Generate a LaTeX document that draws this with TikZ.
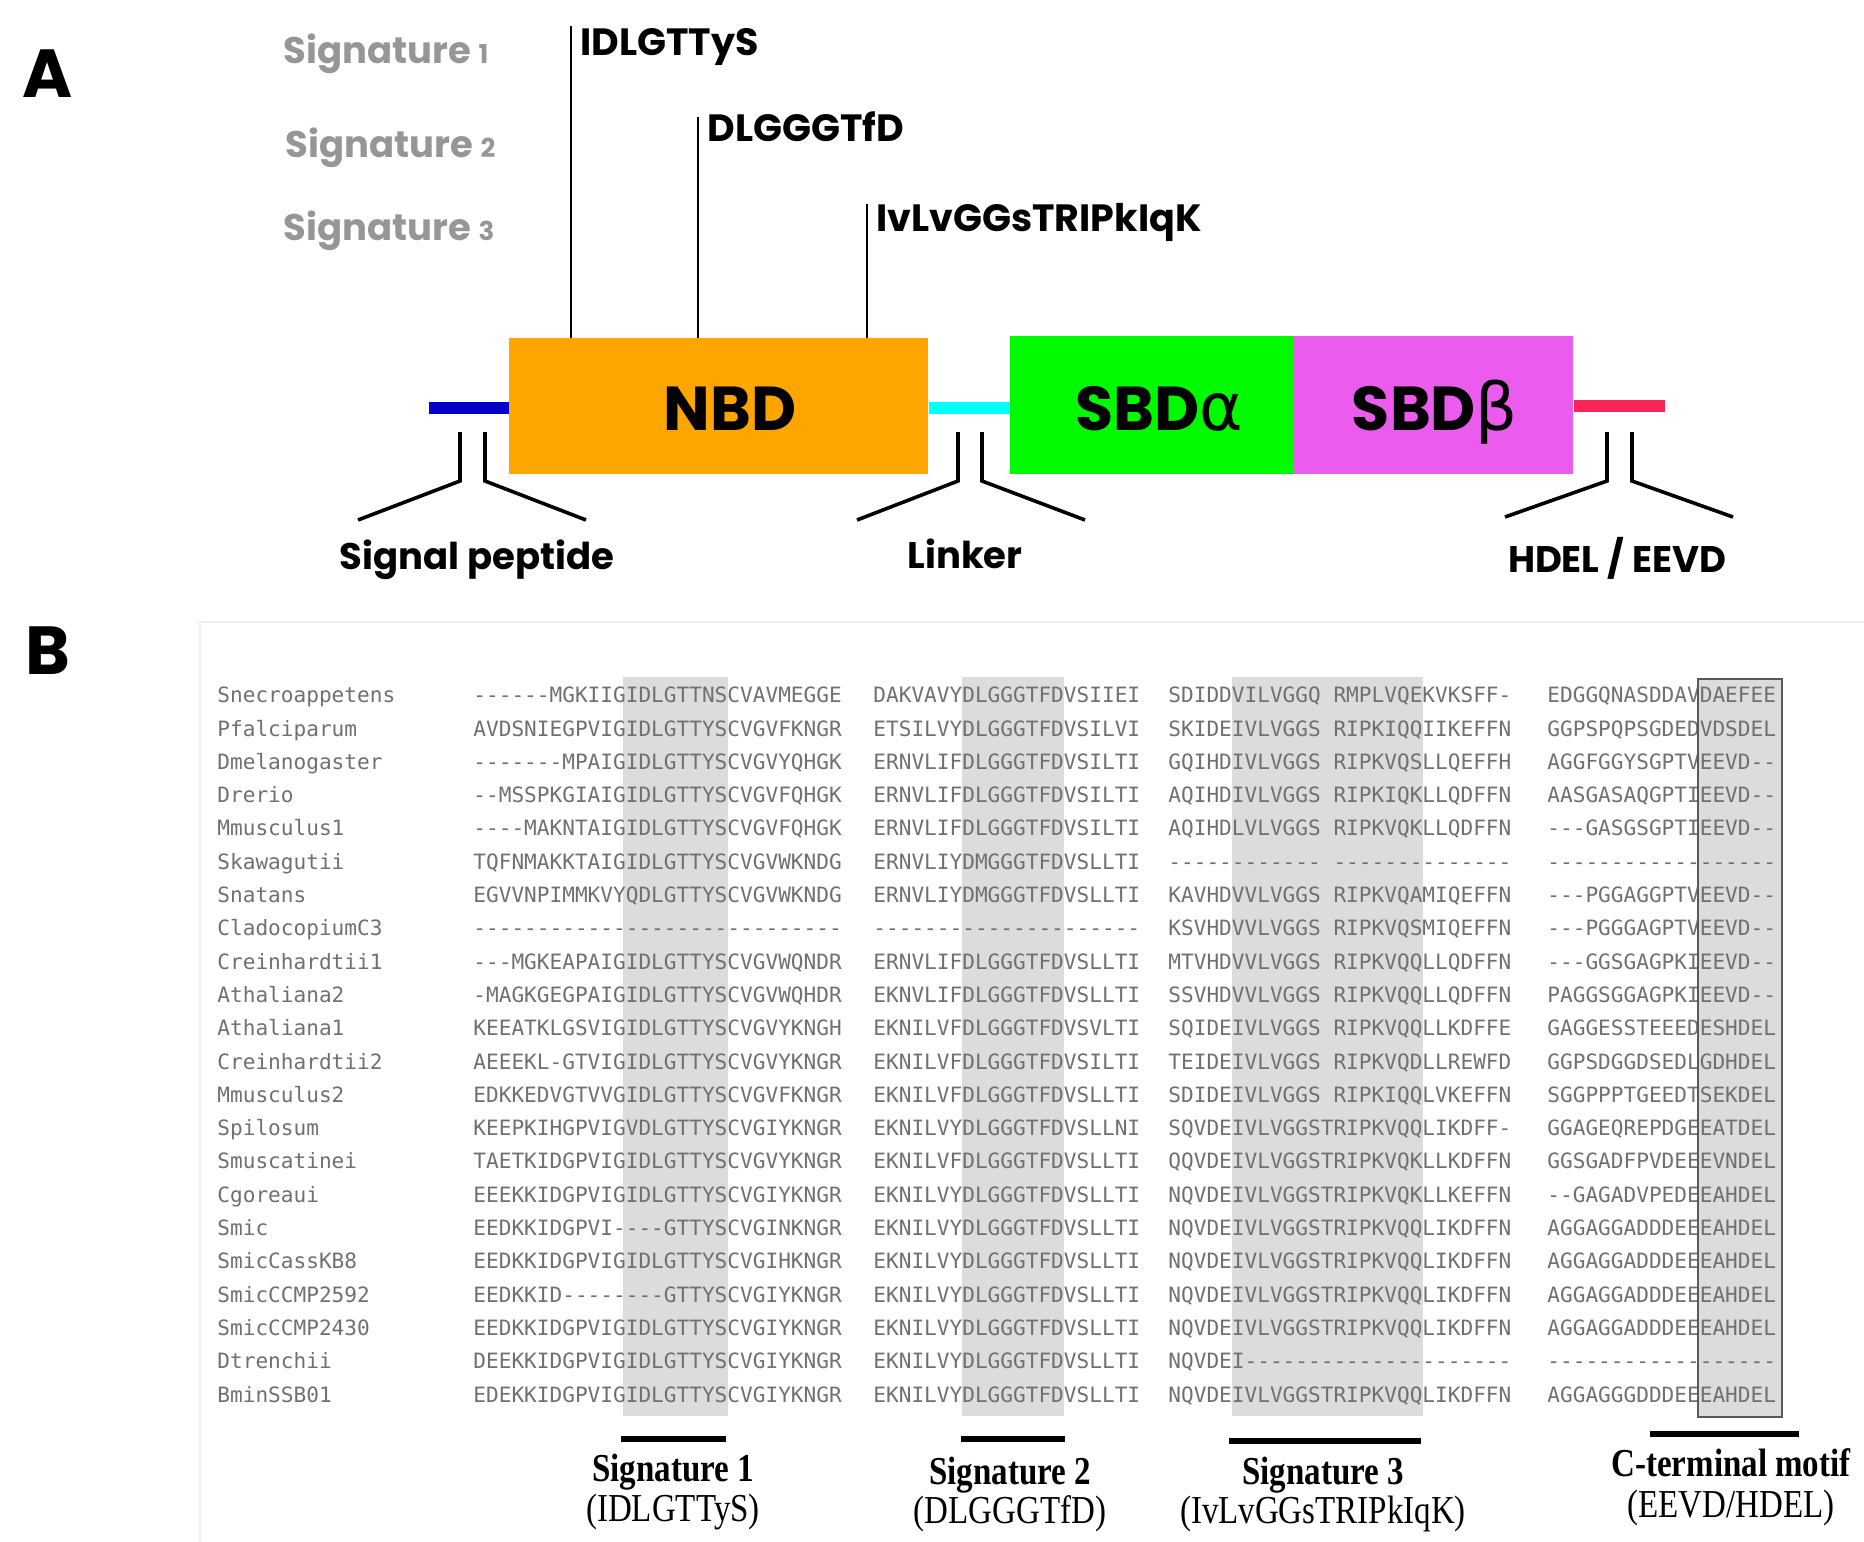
\documentclass[tikz,border=0pt]{standalone}
\usepackage{fontspec}
\setmainfont{Liberation Serif}
\setmonofont{DejaVu Sans Mono}
\newfontfamily\popp{Poppins}
\newfontfamily\greekf{DejaVu Sans}
\definecolor{seqgray}{RGB}{112,112,112}
\definecolor{siggray}{RGB}{150,150,150}
\definecolor{shadegray}{RGB}{220,220,220}
\definecolor{nbdcol}{RGB}{255,165,0}
\definecolor{sbdacol}{RGB}{0,250,0}
\definecolor{sbdbcol}{RGB}{235,92,238}
\definecolor{spcol}{RGB}{0,0,200}
\definecolor{lkcol}{RGB}{0,255,255}
\definecolor{ctcol}{RGB}{248,36,90}
\newcommand\aagap{\hphantom{M}}
\newcommand\seqfont{\ttfamily\fontsize{10.55}{12}\selectfont}
\tikzset{
  seqtxt/.style={anchor=base west, inner sep=0pt, font=\seqfont, text=seqgray},
  panel/.style={anchor=base, inner sep=0pt, font=\popp\bfseries\fontsize{34}{34}\selectfont},
  motif/.style={anchor=base west, inner sep=0pt, font=\popp\bfseries\fontsize{19}{20}\selectfont},
  siglbl/.style={anchor=base west, inner sep=0pt, text=siggray, font=\popp\bfseries\fontsize{18.5}{20}\selectfont},
  domlbl/.style={anchor=base, inner sep=0pt, font=\popp\bfseries\fontsize{18.5}{20}\selectfont},
  domtxt/.style={anchor=base, inner sep=0pt, font=\popp\bfseries\fontsize{31}{32}\selectfont},
  shadebox/.style={fill=shadegray, draw=none},
  tick/.style={line width=1.3pt},
  brack/.style={line width=1.8pt},
  linker/.style={line width=6pt},
  bar/.style={line width=3.4pt},
  blbl/.style={anchor=base, inner sep=0pt, font=\bfseries\fontsize{16.5}{18}\selectfont},
  bsub/.style={anchor=base, inner sep=0pt, font=\fontsize{16.5}{18}\selectfont},
}
\begin{document}
\begin{tikzpicture}[x=0.5pt,y=-0.5pt]
\useasboundingbox (0,0) rectangle (1864,1542);
% ---------------- Panel A ----------------
\node[panel] (pa) at (48,97) {A};
\node[siglbl] (sg1) at (283,63) {Signature {\fontsize{13}{14}\selectfont 1}};
\node[siglbl] (sg2) at (285,157) {Signature {\fontsize{13}{14}\selectfont 2}};
\node[siglbl] (sg3) at (283,240) {Signature {\fontsize{13}{14}\selectfont 3}};
% domains
\node[draw=none, fill=nbdcol, minimum width=209.5pt, minimum height=68pt, inner sep=0pt, anchor=north west] (nbd) at (509,338) {};
\node[draw=none, fill=sbdacol, minimum width=141.5pt, minimum height=69pt, inner sep=0pt, anchor=north west] (sbda) at (1010,336) {};
\node[draw=none, fill=sbdbcol, minimum width=140pt, minimum height=69pt, inner sep=0pt, anchor=north west] (sbdb) at (1293,336) {};
\node[domtxt] (nbdt) at (730,430) {NBD};
\node[domtxt] (sbdat) at (1159,430) {SBD{\greekf\mdseries\fontsize{33}{33}\selectfont α}};
\node[domtxt] (sbdbt) at (1435,430) {SBD{\greekf\mdseries\fontsize{33}{33}\selectfont β}};
% linkers
\coordinate (sp0) at (429,408);
\coordinate (lk1) at (1010,408);
\coordinate (ct1) at (1665,406);
\draw[linker, spcol] (sp0) -- (nbd.west |- sp0);
\draw[linker, lkcol] (nbd.east |- lk1) -- (lk1);
\draw[linker, ctcol] (sbdb.east |- ct1) -- (ct1);
% signature ticks
\node[motif] (m1) at (580,55) {IDLGTTyS};
\node[motif] (m2) at (707,141) {DLGGGTfD};
\node[motif] (m3) at (876,231) {IvLvGGsTRIPkIqK};
\coordinate (t1) at (571,26);
\coordinate (t2) at (698,117);
\coordinate (t3) at (867,204);
\draw[tick] (t1) -- (t1 |- nbd.north);
\draw[tick] (t2) -- (t2 |- nbd.north);
\draw[tick] (t3) -- (t3 |- nbd.north);
% brackets
\draw[brack] (358,520) -- (460,481) -- (460,432);
\draw[brack] (586,520) -- (485,481) -- (485,432);
\draw[brack] (857,520) -- (958,481) -- (958,432);
\draw[brack] (1085,520) -- (982,481) -- (982,432);
\draw[brack] (1505,517) -- (1607,481) -- (1607,432);
\draw[brack] (1733,517) -- (1632,481) -- (1632,432);
\node[domlbl] (lsp) at (477,569) {Signal peptide};
\node[domlbl] (llk) at (965,568) {Linker};
\node[domlbl] (lct) at (1617,572) {HDEL / EEVD};
% ---------------- Panel B ----------------
\node[panel] (pb) at (48,674) {B};
\draw[black!6, line width=0.8pt] (200,1542) -- (200,622) -- (1864,622);
\path[shadebox] (623,677) rectangle (728,1416);
\path[shadebox] (962,677) rectangle (1064,1416);
\path[shadebox] (1232,677) rectangle (1423,1416);
\path[shadebox] (1698,679) rectangle (1782,1417);
\foreach \nm/\sa/\sb/\sc/\sd [count=\i from 0] in {
Snecroappetens/------MGKIIGIDLGTTNSCVAVMEGGE/DAKVAVYDLGGGTFDVSIIEI/SDIDDVILVGGQ\aagap RMPLVQEKVKSFF-/EDGGQNASDDAVDAEFEE,
Pfalciparum/AVDSNIEGPVIGIDLGTTYSCVGVFKNGR/ETSILVYDLGGGTFDVSILVI/SKIDEIVLVGGS\aagap RIPKIQQIIKEFFN/GGPSPQPSGDEDVDSDEL,
Dmelanogaster/-------MPAIGIDLGTTYSCVGVYQHGK/ERNVLIFDLGGGTFDVSILTI/GQIHDIVLVGGS\aagap RIPKVQSLLQEFFH/AGGFGGYSGPTVEEVD--,
Drerio/--MSSPKGIAIGIDLGTTYSCVGVFQHGK/ERNVLIFDLGGGTFDVSILTI/AQIHDIVLVGGS\aagap RIPKIQKLLQDFFN/AASGASAQGPTIEEVD--,
Mmusculus1/----MAKNTAIGIDLGTTYSCVGVFQHGK/ERNVLIFDLGGGTFDVSILTI/AQIHDLVLVGGS\aagap RIPKVQKLLQDFFN/---GASGSGPTIEEVD--,
Skawagutii/TQFNMAKKTAIGIDLGTTYSCVGVWKNDG/ERNVLIYDMGGGTFDVSLLTI/------------\aagap --------------/------------------,
Snatans/EGVVNPIMMKVYQDLGTTYSCVGVWKNDG/ERNVLIYDMGGGTFDVSLLTI/KAVHDVVLVGGS\aagap RIPKVQAMIQEFFN/---PGGAGGPTVEEVD--,
CladocopiumC3/-----------------------------/---------------------/KSVHDVVLVGGS\aagap RIPKVQSMIQEFFN/---PGGGAGPTVEEVD--,
Creinhardtii1/---MGKEAPAIGIDLGTTYSCVGVWQNDR/ERNVLIFDLGGGTFDVSLLTI/MTVHDVVLVGGS\aagap RIPKVQQLLQDFFN/---GGSGAGPKIEEVD--,
Athaliana2/-MAGKGEGPAIGIDLGTTYSCVGVWQHDR/EKNVLIFDLGGGTFDVSLLTI/SSVHDVVLVGGS\aagap RIPKVQQLLQDFFN/PAGGSGGAGPKIEEVD--,
Athaliana1/KEEATKLGSVIGIDLGTTYSCVGVYKNGH/EKNILVFDLGGGTFDVSVLTI/SQIDEIVLVGGS\aagap RIPKVQQLLKDFFE/GAGGESSTEEEDESHDEL,
Creinhardtii2/AEEEKL-GTVIGIDLGTTYSCVGVYKNGR/EKNILVFDLGGGTFDVSILTI/TEIDEIVLVGGS\aagap RIPKVQDLLREWFD/GGPSDGGDSEDLGDHDEL,
Mmusculus2/EDKKEDVGTVVGIDLGTTYSCVGVFKNGR/EKNILVFDLGGGTFDVSLLTI/SDIDEIVLVGGS\aagap RIPKIQQLVKEFFN/SGGPPPTGEEDTSEKDEL,
Spilosum/KEEPKIHGPVIGVDLGTTYSCVGIYKNGR/EKNILVYDLGGGTFDVSLLNI/SQVDEIVLVGGSTRIPKVQQLIKDFF-/GGAGEQREPDGEEATDEL,
Smuscatinei/TAETKIDGPVIGIDLGTTYSCVGVYKNGR/EKNILVFDLGGGTFDVSLLTI/QQVDEIVLVGGSTRIPKVQKLLKDFFN/GGSGADFPVDEEEVNDEL,
Cgoreaui/EEEKKIDGPVIGIDLGTTYSCVGIYKNGR/EKNILVYDLGGGTFDVSLLTI/NQVDEIVLVGGSTRIPKVQKLLKEFFN/--GAGADVPEDEEAHDEL,
Smic/EEDKKIDGPVI----GTTYSCVGINKNGR/EKNILVYDLGGGTFDVSLLTI/NQVDEIVLVGGSTRIPKVQQLIKDFFN/AGGAGGADDDEEEAHDEL,
SmicCassKB8/EEDKKIDGPVIGIDLGTTYSCVGIHKNGR/EKNILVYDLGGGTFDVSLLTI/NQVDEIVLVGGSTRIPKVQQLIKDFFN/AGGAGGADDDEEEAHDEL,
SmicCCMP2592/EEDKKID--------GTTYSCVGIYKNGR/EKNILVYDLGGGTFDVSLLTI/NQVDEIVLVGGSTRIPKVQQLIKDFFN/AGGAGGADDDEEEAHDEL,
SmicCCMP2430/EEDKKIDGPVIGIDLGTTYSCVGIYKNGR/EKNILVYDLGGGTFDVSLLTI/NQVDEIVLVGGSTRIPKVQQLIKDFFN/AGGAGGADDDEEEAHDEL,
Dtrenchii/DEEKKIDGPVIGIDLGTTYSCVGIYKNGR/EKNILVYDLGGGTFDVSLLTI/NQVDEI---------------------/------------------,
BminSSB01/EDEKKIDGPVIGIDLGTTYSCVGIYKNGR/EKNILVYDLGGGTFDVSLLTI/NQVDEIVLVGGSTRIPKVQQLIKDFFN/AGGAGGGDDDEEEAHDEL}{
  \pgfmathsetmacro\yb{702.7+33.3*\i}
  \node[seqtxt] (nm\i) at (217,\yb) {\nm};
  \node[seqtxt] (sa\i) at (473,\yb) {\sa};
  \node[seqtxt] (sb\i) at (873,\yb) {\sb};
  \node[seqtxt] (sc\i) at (1168,\yb) {\sc};
  \node[seqtxt] (sd\i) at (1547,\yb) {\sd};
}
\draw[black!65, line width=1pt] (1698,679) rectangle (1782,1417);
% signature bars and labels
\coordinate (b1a) at (621,1439); \coordinate (b1b) at (726,1439);
\coordinate (b2a) at (961,1439); \coordinate (b2b) at (1065,1439);
\coordinate (b3a) at (1229,1441); \coordinate (b3b) at (1421,1441);
\coordinate (b4a) at (1650,1434); \coordinate (b4b) at (1799,1434);
\draw[bar] (b1a) -- (b1b);
\draw[bar] (b2a) -- (b2b);
\draw[bar] (b3a) -- (b3b);
\draw[bar] (b4a) -- (b4b);
\node[blbl] (l1) at (673,1481) {\scalebox{1}[1.2]{Signature 1}};
\node[bsub] (l1s) at (673,1521) {\scalebox{1}[1.2]{(IDLGTTyS)}};
\node[blbl] (l2) at (1010,1484) {\scalebox{1}[1.2]{Signature 2}};
\node[bsub] (l2s) at (1010,1523) {\scalebox{1}[1.2]{(DLGGGTfD)}};
\node[blbl] (l3) at (1323,1484) {\scalebox{1}[1.2]{Signature 3}};
\node[bsub] (l3s) at (1323,1523) {\scalebox{1}[1.2]{(IvLvGGsTRIPkIqK)}};
\node[blbl] (l4) at (1731,1476) {\scalebox{1}[1.2]{C-terminal motif}};
\node[bsub] (l4s) at (1731,1517) {\scalebox{1}[1.2]{(EEVD/HDEL)}};
\end{tikzpicture}
\end{document}
